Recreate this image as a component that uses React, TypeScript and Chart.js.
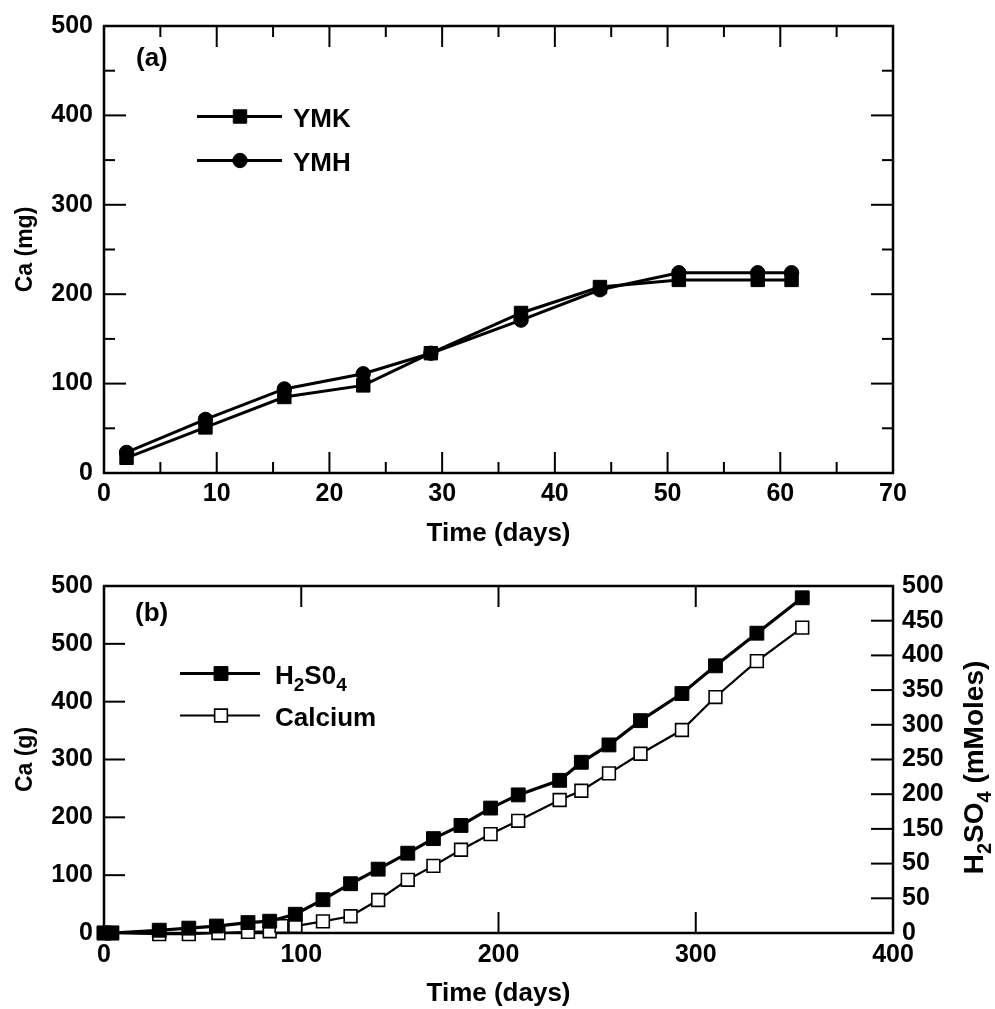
import React, { useEffect, useRef } from "react";
import { Chart, registerables } from "chart.js";

Chart.register(...registerables);

const FONT = "'Liberation Sans', Arial, Helvetica, sans-serif";

// ---------- Panel (a) ----------
const daysA = [2, 9, 16, 23, 29, 37, 44, 51, 58, 61];
const ymk = [17, 51, 85, 98, 134, 179, 208, 216, 216, 216];
const ymh = [23, 60, 94, 111, 134, 171, 205, 224, 224, 224];
const xTickLabelsA = ["0", "10", "20", "30", "40", "50", "60", "70"];
const yTickLabelsA = ["0", "100", "200", "300", "400", "500"];

// ---------- Panel (b) ----------
const daysH2SO4 = [0, 4, 28, 43, 57, 73, 84, 97, 111, 125, 139, 154, 167, 181, 196, 210, 231, 242, 256, 272, 293, 310, 331, 354];
const h2so4 = [0, 0, 4, 7, 10, 15, 17, 27, 48, 71, 92, 115, 136, 155, 180, 199, 220, 246, 271, 306, 345, 385, 432, 483];
const daysCalcium = [0, 4, 28, 43, 58, 73, 84, 90, 97, 111, 125, 139, 154, 167, 181, 196, 210, 231, 242, 256, 272, 293, 310, 331, 354];
const calcium = [0, 0, -2, -2, 0, 2, 3, 12, 12, 20, 29, 57, 92, 116, 144, 171, 194, 230, 246, 276, 310, 351, 408, 470, 528];
const xTickLabelsB = ["0", "100", "200", "300", "400"];
const yLeftTickLabelsB = ["0", "100", "200", "300", "400", "500", "500"];
const yRightTickLabelsB = ["0", "50", "50", "150", "200", "250", "300", "350", "400", "450", "500"];

type Part = { t: string; sub?: boolean };

function drawRich(ctx: CanvasRenderingContext2D, parts: Part[], x: number, y: number, size: number, measureOnly = false) {
  let cx = x;
  for (const p of parts) {
    const s = p.sub ? Math.round(size * 0.72) : size;
    ctx.font = `bold ${s}px ${FONT}`;
    if (!measureOnly) ctx.fillText(p.t, cx, p.sub ? y + size * 0.28 : y);
    cx += ctx.measureText(p.t).width;
  }
  return cx - x;
}

function framePlugin(spec: { id: string; edges: string[]; major: number; minor: number }[]) {
  return {
    id: "frameTicks",
    beforeDatasetsDraw(chart: any) {
      const { ctx, chartArea: a } = chart;
      ctx.save();
      ctx.strokeStyle = "#000";
      ctx.lineWidth = 2;
      for (const s of spec) {
        const scale = chart.scales[s.id];
        const majors: number[] = scale.ticks.map((t: any) => t.value);
        const minors: number[] = [];
        if (s.minor > 0) for (let i = 0; i < majors.length - 1; i++) minors.push((majors[i] + majors[i + 1]) / 2);
        const draw = (v: number, len: number) => {
          const p = scale.getPixelForValue(v);
          for (const e of s.edges) {
            ctx.beginPath();
            if (e === "bottom") { ctx.moveTo(p, a.bottom); ctx.lineTo(p, a.bottom - len); }
            if (e === "top") { ctx.moveTo(p, a.top); ctx.lineTo(p, a.top + len); }
            if (e === "left") { ctx.moveTo(a.left, p); ctx.lineTo(a.left + len, p); }
            if (e === "right") { ctx.moveTo(a.right, p); ctx.lineTo(a.right - len, p); }
            ctx.stroke();
          }
        };
        majors.forEach((v) => draw(v, s.major));
        minors.forEach((v) => draw(v, s.minor));
      }
      ctx.lineWidth = 2.5;
      ctx.strokeRect(a.left, a.top, a.right - a.left, a.bottom - a.top);
      ctx.restore();
    },
  };
}

type LegendItem = { ds: number; parts: Part[]; y: number };
function annotPlugin(opts: {
  panel: string; panelX: number; panelY: number;
  items: LegendItem[]; x0: number; x1: number; mx: number; tx: number; base: number; size: number;
  rightTitle?: { parts: Part[]; x: number; size: number };
}) {
  return {
    id: "annot",
    afterDraw(chart: any) {
      const { ctx } = chart;
      ctx.save();
      ctx.fillStyle = "#000";
      ctx.textBaseline = "alphabetic";
      ctx.textAlign = "left";
      ctx.font = `bold ${opts.size}px ${FONT}`;
      ctx.fillText(opts.panel, opts.panelX, opts.panelY);
      for (const it of opts.items) {
        const ds = chart.data.datasets[it.ds];
        ctx.strokeStyle = ds.borderColor;
        ctx.lineWidth = ds.borderWidth;
        ctx.beginPath();
        ctx.moveTo(opts.x0, it.y);
        ctx.lineTo(opts.x1, it.y);
        ctx.stroke();
        const r = ds.pointRadius;
        ctx.fillStyle = ds.pointBackgroundColor;
        ctx.strokeStyle = ds.pointBorderColor;
        ctx.lineWidth = ds.pointBorderWidth;
        ctx.beginPath();
        if (ds.pointStyle === "circle") ctx.arc(opts.mx, it.y, r, 0, Math.PI * 2);
        else { const h = r * Math.SQRT1_2; ctx.rect(opts.mx - h, it.y - h, 2 * h, 2 * h); }
        ctx.fill();
        ctx.stroke();
        ctx.fillStyle = "#000";
        drawRich(ctx, it.parts, opts.tx, it.y + opts.base, opts.size);
      }
      if (opts.rightTitle) {
        const rt = opts.rightTitle;
        const a = chart.chartArea;
        const cy = (a.top + a.bottom) / 2 + 8;
        const w = drawRich(ctx, rt.parts, 0, 0, rt.size, true);
        ctx.translate(rt.x, cy);
        ctx.rotate(-Math.PI / 2);
        drawRich(ctx, rt.parts, -w / 2, 0, rt.size);
      }
      ctx.restore();
    },
  };
}

const tickFont = { family: FONT, size: 25, weight: "bold" as const };
const hTitleFont = { family: FONT, size: 26, weight: "bold" as const };
const vTitleFont = { family: FONT, size: 23, weight: "bold" as const };

function configA(): any {
  return {
    type: "line",
    data: {
      datasets: [
        {
          label: "YMK",
          data: daysA.map((d, i) => ({ x: d, y: ymk[i] })),
          borderColor: "#000", borderWidth: 3, tension: 0, fill: false,
          pointStyle: "rect", pointRadius: 9.5, pointBackgroundColor: "#000", pointBorderColor: "#000", pointBorderWidth: 1,
          order: 1, clip: false,
        },
        {
          label: "YMH",
          data: daysA.map((d, i) => ({ x: d, y: ymh[i] })),
          borderColor: "#000", borderWidth: 3, tension: 0, fill: false,
          pointStyle: "circle", pointRadius: 7.2, pointBackgroundColor: "#000", pointBorderColor: "#000", pointBorderWidth: 1,
          order: 0, clip: false,
        },
      ],
    },
    options: {
      responsive: false,
      animation: false,
      events: [],
      layout: { padding: { top: 19, right: 102, left: 0, bottom: 0 } },
      plugins: { legend: { display: false }, tooltip: { enabled: false } },
      scales: {
        x: {
          type: "linear", position: "bottom", min: 0, max: 70,
          ticks: { stepSize: 10, autoSkip: false, maxRotation: 0, padding: 6, color: "#000", font: tickFont,
            callback: (v: number) => xTickLabelsA[Math.round(v / 10)] },
          grid: { display: false, drawTicks: false }, border: { display: false },
          title: { display: true, text: "Time (days)", color: "#000", font: hTitleFont, padding: { top: 0, bottom: 11 } },
          afterFit: (s: any) => { s.height = 87; },
        },
        y: {
          type: "linear", position: "left", min: 0, max: 500,
          ticks: { stepSize: 100, autoSkip: false, padding: 11, color: "#000", font: tickFont,
            callback: (v: number) => yTickLabelsA[Math.round(v / 100)] },
          grid: { display: false, drawTicks: false }, border: { display: false },
          title: { display: true, text: "Ca (mg)", color: "#000", font: vTitleFont, padding: { top: 12, bottom: 0 } },
          afterFit: (s: any) => { s.width = 104; },
        },
      },
    },
    plugins: [
      framePlugin([
        { id: "x", edges: ["bottom", "top"], major: 21, minor: 11 },
        { id: "y", edges: ["left", "right"], major: 22, minor: 11 },
      ]),
      annotPlugin({
        panel: "(a)", panelX: 136, panelY: 66,
        items: [
          { ds: 0, parts: [{ t: "YMK" }], y: 116.5 },
          { ds: 1, parts: [{ t: "YMH" }], y: 160.5 },
        ],
        x0: 197, x1: 282, mx: 240, tx: 293, base: 10.5, size: 26,
      }),
    ],
  };
}

function configB(): any {
  return {
    type: "line",
    data: {
      datasets: [
        {
          label: "H2SO4",
          data: daysH2SO4.map((d, i) => ({ x: d, y: h2so4[i] })),
          yAxisID: "y2",
          borderColor: "#000", borderWidth: 3.2, tension: 0, fill: false,
          pointStyle: "rect", pointRadius: 9.8, pointBackgroundColor: "#000", pointBorderColor: "#000", pointBorderWidth: 1,
          clip: false,
        },
        {
          label: "Calcium",
          data: daysCalcium.map((d, i) => ({ x: d, y: calcium[i] })),
          yAxisID: "y",
          borderColor: "#000", borderWidth: 2.2, tension: 0, fill: false,
          pointStyle: "rect", pointRadius: 9, pointBackgroundColor: "#fff", pointBorderColor: "#000", pointBorderWidth: 1.6,
          clip: false,
        },
      ],
    },
    options: {
      responsive: false,
      animation: false,
      events: [],
      layout: { padding: { top: 16, right: 0, left: 0, bottom: 0 } },
      plugins: { legend: { display: false }, tooltip: { enabled: false } },
      scales: {
        x: {
          type: "linear", position: "bottom", min: 0, max: 400,
          ticks: { stepSize: 100, autoSkip: false, maxRotation: 0, padding: 7, color: "#000", font: tickFont,
            callback: (v: number) => xTickLabelsB[Math.round(v / 100)] },
          grid: { display: false, drawTicks: false }, border: { display: false },
          title: { display: true, text: "Time (days)", color: "#000", font: hTitleFont, padding: { top: 0, bottom: 0 } },
          afterFit: (s: any) => { s.height = 76; },
        },
        y: {
          type: "linear", position: "left", min: 0, max: 600,
          ticks: { stepSize: 100, autoSkip: false, padding: 11, color: "#000", font: tickFont,
            callback: (v: number) => yLeftTickLabelsB[Math.round(v / 100)] },
          grid: { display: false, drawTicks: false }, border: { display: false },
          title: { display: true, text: "Ca (g)", color: "#000", font: vTitleFont, padding: { top: 12, bottom: 0 } },
          afterFit: (s: any) => { s.width = 104; },
        },
        y2: {
          type: "linear", position: "right", min: 0, max: 500,
          ticks: { stepSize: 50, autoSkip: false, padding: 9, color: "#000", font: tickFont,
            callback: (v: number) => yRightTickLabelsB[Math.round(v / 50)] },
          grid: { display: false, drawTicks: false }, border: { display: false },
          afterFit: (s: any) => { s.width = 102; },
        },
      },
    },
    plugins: [
      framePlugin([
        { id: "x", edges: ["bottom", "top"], major: 21, minor: 0 },
        { id: "y", edges: ["left"], major: 21, minor: 0 },
        { id: "y2", edges: ["right"], major: 22, minor: 0 },
      ]),
      annotPlugin({
        panel: "(b)", panelX: 135, panelY: 61,
        items: [
          { ds: 0, parts: [{ t: "H" }, { t: "2", sub: true }, { t: "S0" }, { t: "4", sub: true }], y: 113.5 },
          { ds: 1, parts: [{ t: "Calcium" }], y: 155.5 },
        ],
        x0: 180, x1: 260, mx: 221, tx: 275, base: 10, size: 26,
        rightTitle: {
          parts: [{ t: "H" }, { t: "2", sub: true }, { t: "SO" }, { t: "4", sub: true }, { t: " (mMoles)" }],
          x: 983, size: 28,
        },
      }),
    ],
  };
}

function ChartCanvas({ top, width, height, build }: { top: number; width: number; height: number; build: () => any }) {
  const ref = useRef<HTMLCanvasElement | null>(null);
  useEffect(() => {
    if (!ref.current) return;
    const chart = new Chart(ref.current, build());
    return () => chart.destroy();
  }, []);
  return (
    <canvas
      ref={ref}
      width={width}
      height={height}
      style={{ position: "absolute", left: 0, top, width, height, display: "block" }}
    />
  );
}

export default function App() {
  return (
    <div style={{ position: "absolute", left: 0, top: 0, width: 995, height: 1009, background: "#fff" }}>
      <ChartCanvas top={0} width={995} height={560} build={configA} />
      <ChartCanvas top={560} width={995} height={449} build={configB} />
    </div>
  );
}
